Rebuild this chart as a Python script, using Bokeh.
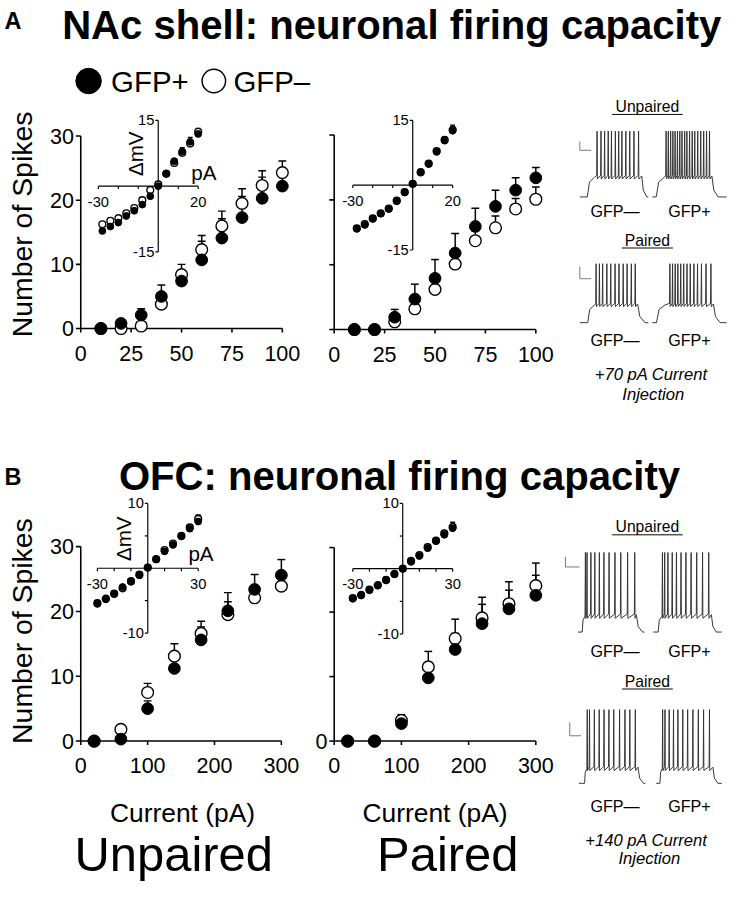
import math
from bokeh.plotting import figure
from bokeh.models import Range1d
from bokeh.core.properties import value
from bokeh.embed import file_html
from bokeh.resources import INLINE

# ------------------------------------------------------------------ DATA
# Panel A : NAc shell, current steps (pA) vs number of spikes
A_CURRENT = [10, 20, 30, 40, 50, 60, 70, 80, 90, 100]
A_UNP_GFPP = [0, 0.8, 2.1, 5.0, 7.4, 10.7, 14.1, 17.3, 20.3, 22.2]
A_UNP_GFPP_SE = [0, 0.3, 1.0, 1.8, 1.5, 2.9, 3.0, 3.3, 3.3, 2.7]
A_UNP_GFPM = [0, 0, 0.4, 3.8, 8.4, 12.3, 16.0, 19.5, 22.3, 24.3]
A_UNP_GFPM_SE = [0, 0, 0.3, 0.8, 1.6, 2.2, 2.3, 2.3, 2.3, 1.8]
A_PAI_GFPP = [0, 0, 1.9, 4.7, 7.9, 11.8, 15.9, 19.0, 21.5, 23.4]
A_PAI_GFPP_SE = [0, 0, 1.2, 2.3, 2.9, 3.0, 2.8, 2.5, 1.9, 1.6]
A_PAI_GFPM = [0, 0, 1.2, 3.2, 6.2, 10.1, 13.7, 15.7, 18.6, 20.1]
A_PAI_GFPM_SE = [0, 0, 0.5, 1.0, 1.2, 1.5, 1.5, 1.8, 1.6, 1.9]
A_X_TICKS = [0, 25, 50, 75, 100]

# Panel A insets : I-V (pA vs delta mV)
A_IV_CURRENT = [-28, -24, -20, -16, -12, -8, -4, 0, 4, 8, 12, 16, 20]
A_IV_UNP_GFPP = [-10.2, -9.2, -8.3, -6.8, -5.6, -4.2, -2.3, 0.0, 2.9, 5.7, 7.9, 10.1, 11.9]
A_IV_UNP_GFPP_SE = [0.3, 0.3, 0.3, 0.3, 0.3, 0.3, 0.3, 0.3, 0.3, 0.4, 0.9, 1.0, 1.0]
A_IV_UNP_GFPM = [-8.7, -7.9, -7.3, -6.2, -5.0, -3.2, -0.9, 0.4, 2.8, 5.3, 7.6, 9.7, 12.4]
A_IV_UNP_GFPM_SE = [0.3, 0.3, 0.3, 0.3, 0.3, 0.3, 0.3, 0.3, 0.3, 0.3, 0.5, 0.6, 0.8]
A_IV_PAI_GFPP = [-10.1, -9.2, -7.8, -6.6, -5.5, -3.7, -1.7, 0.3, 2.9, 4.9, 7.7, 10.3, 12.6]
A_IV_PAI_GFPP_SE = [0.3, 0.3, 0.3, 0.3, 0.3, 0.3, 0.3, 0.3, 0.3, 0.3, 0.7, 0.8, 1.3]
A_IV_PAI_GFPM = [-10.0, -9.0, -7.7, -6.5, -5.4, -3.6, -1.6, 0.3, 3.0, 5.0, 7.9, 10.5, 12.8]
A_IV_PAI_GFPM_SE = [0.3, 0.3, 0.3, 0.3, 0.3, 0.3, 0.3, 0.3, 0.3, 0.3, 0.5, 0.6, 0.8]
A_IV_X_TICKS = [-30, -20, -10, 10, 20]
A_IV_Y_TICKS = [-15, 15]

# Panel B : OFC
B_CURRENT = [20, 60, 100, 140, 180, 220, 260, 300]
B_UNP_GFPP = [0, 0.3, 5.0, 11.2, 15.6, 20.1, 23.4, 25.6]
B_UNP_GFPP_SE = [0, 0.2, 1.2, 1.5, 2.0, 2.8, 2.3, 2.4]
B_UNP_GFPM = [0, 1.8, 7.5, 13.1, 16.6, 19.5, 22.1, 23.9]
B_UNP_GFPM_SE = [0, 0.3, 1.4, 1.9, 1.9, 2.0, 1.5, 1.5]
B_PAI_GFPP = [0, 0, 2.7, 9.8, 14.2, 18.2, 20.5, 22.6]
B_PAI_GFPP_SE = [0, 0, 0.7, 1.5, 2.5, 3.0, 2.9, 3.1]
B_PAI_GFPM = [0, 0, 3.2, 11.5, 15.9, 19.1, 21.3, 24.1]
B_PAI_GFPM_SE = [0, 0, 0.9, 2.4, 3.0, 3.2, 3.4, 3.5]
B_X_TICKS = [0, 100, 200, 300]

B_IV_CURRENT = [-30, -25, -20, -15, -10, -5, 0, 5, 10, 15, 20, 25, 30]
B_IV_UNP_GFPP = [-5.5, -4.8, -4.0, -2.9, -2.1, -1.1, 0.1, 1.35, 2.6, 3.6, 4.9, 6.1, 7.2]
B_IV_UNP_GFPP_SE = [0.2, 0.2, 0.2, 0.2, 0.2, 0.2, 0.2, 0.2, 0.2, 0.2, 0.3, 0.4, 1.0]
B_IV_UNP_GFPM = [-5.4, -4.7, -3.9, -3.1, -2.0, -1.0, 0.1, 1.4, 2.8, 3.8, 5.0, 6.3, 7.6]
B_IV_UNP_GFPM_SE = [0.2, 0.2, 0.2, 0.2, 0.2, 0.2, 0.2, 0.2, 0.2, 0.2, 0.3, 0.4, 0.6]
B_IV_PAI_GFPP = [-4.6, -4.1, -3.3, -2.6, -1.8, -0.85, 0.0, 1.05, 1.95, 3.15, 4.2, 5.2, 6.2]
B_IV_PAI_GFPP_SE = [0.2, 0.2, 0.2, 0.2, 0.2, 0.2, 0.2, 0.2, 0.2, 0.2, 0.3, 0.4, 0.9]
B_IV_PAI_GFPM = [-4.5, -4.0, -3.2, -2.5, -1.7, -0.8, 0.0, 1.2, 2.1, 3.3, 4.3, 5.4, 6.4]
B_IV_PAI_GFPM_SE = [0.2, 0.2, 0.2, 0.2, 0.2, 0.2, 0.2, 0.2, 0.2, 0.2, 0.3, 0.4, 0.7]
B_IV_X_TICKS = [-30, -20, -10, 10, 20, 30]
B_IV_Y_TICKS = [-10, -5, 5, 10]

Y_TICKS = [0, 10, 20, 30]

# Example traces: (onset, plateau reached, spike times, offset, back to rest) in ms
TR_A_UNP_M = dict(on=76, plat=150, spikes=[176, 216, 253, 290, 323, 363, 397, 430, 470, 510, 553, 600], off=633, back=683)
TR_A_UNP_P = dict(on=37, plat=114, spikes=[130, 151, 173, 194, 215, 237, 259, 280, 305, 326, 351, 376, 400, 428, 456, 484, 511, 539], off=561, back=620)
TR_A_PAI_M = dict(on=80, plat=150, spikes=[166, 200, 233, 276, 316, 360, 400, 443, 483, 526, 566], off=590, back=666)
TR_A_PAI_P = dict(on=40, plat=120, spikes=[166, 191, 216, 241, 268, 296, 327, 358, 392, 426, 463, 506, 552], off=576, back=638)
TR_B_UNP_M = dict(on=45, plat=75, spikes=[79, 96, 137, 178, 226, 274, 328, 390, 451, 523, 598], off=615, back=680)
TR_B_UNP_P = dict(on=50, plat=90, spikes=[94, 117, 150, 194, 237, 284, 334, 387, 444, 504, 567], off=594, back=644)
TR_B_PAI_M = dict(on=60, plat=85, spikes=[88, 112, 163, 214, 265, 316, 367, 428, 485, 536, 594], off=622, back=679)
TR_B_PAI_P = dict(on=40, plat=65, spikes=[69, 94, 139, 185, 232, 284, 336, 392, 450, 506, 569], off=606, back=658)
TRACE_REST_MV = -80
TRACE_PEAK_MV = 30
TRACE_TROUGH_A_MV = -47
TRACE_TROUGH_B_MV = -58
# scale bars: (t0 ms, v0 mV, length ms, height mV)
SCALE_A_UNP = (0, -2, 115, 15)
SCALE_A_PAI = (0, 2, 115, 23)
SCALE_B_UNP = (-131, 10, 148, 14)
SCALE_B_PAI = (-96, -9, 119, 20)

# ------------------------------------------------------------------ CANVAS
W, H = 733, 883
REF_W, REF_H = 749, 899
S = W / REF_W
FONT = "Liberation Sans"

p = figure(width=W, height=H, x_range=Range1d(0, REF_W), y_range=Range1d(REF_H, 0),
           x_axis_location=None, y_axis_location=None, min_border=0,
           toolbar_location=None, output_backend="svg", outline_line_color=None,
           background_fill_color="white", border_fill_color="white")
p.grid.visible = False


def px(v):
    return f"{v * S:.1f}px"


def txt(t, x, y, s, size, align="center", baseline="middle", style="normal",
        font=FONT, angle=0.0, xo=0.0, yo=0.0, color="black"):
    t.text(x=[x], y=[y], text=[s], text_font=value(font), text_font_size=px(size),
           text_align=align, text_baseline=baseline, text_font_style=style,
           angle=angle, x_offset=xo * S, y_offset=yo * S, text_color=color)


def series(sp, xs, fp, fp_se, fm, fm_se, msize, cap, lw):
    for ys, se in ((fp, fp_se), (fm, fm_se)):
        ex = [x for x, e in zip(xs, se) if e > 0]
        ey0 = [y for y, e in zip(ys, se) if e > 0]
        ey1 = [y + e for y, e in zip(ys, se) if e > 0]
        sp.segment(x0=ex, y0=ey0, x1=ex, y1=ey1, line_color="black", line_width=lw * S)
        sp.scatter(x=ex, y=ey1, marker="dash", size=cap * S, line_color="black", line_width=lw * S)
    sp.scatter(x=xs, y=fm, size=msize * S, fill_color="white", line_color="black", line_width=1.4 * S)
    sp.scatter(x=xs, y=fp, size=msize * S, fill_color="black", line_color="black")


def main_panel(xs, fp, fp_se, fm, fm_se, xlim, xticks, box, ylabels):
    left, right, top, bottom = box
    sp = p.subplot(x_source=Range1d(*xlim), y_source=Range1d(0, 30),
                   x_target=Range1d(left, right), y_target=Range1d(bottom, top))
    dx = (xlim[1] - xlim[0]) / (right - left)
    dy = 30.0 / (bottom - top)
    lw = 1.6 * S
    sp.segment(x0=[xlim[0], xlim[0]], y0=[0, 0], x1=[xlim[1], xlim[0]], y1=[0, 30],
               line_color="black", line_width=lw)
    sp.segment(x0=[xlim[0]] * len(Y_TICKS), y0=Y_TICKS, x1=[xlim[0] - 5 * dx] * len(Y_TICKS), y1=Y_TICKS,
               line_color="black", line_width=lw)
    sp.segment(x0=xticks, y0=[0] * len(xticks), x1=xticks, y1=[-4 * dy] * len(xticks),
               line_color="black", line_width=lw)
    sp.text(x=xticks, y=[0] * len(xticks), text=[str(t) for t in xticks], text_font=value(FONT),
            text_font_size=px(22), text_align="center", text_baseline="middle", y_offset=25 * S)
    if ylabels:
        yv = [v for v in Y_TICKS if v in ylabels]
        sp.text(x=[xlim[0]] * len(yv), y=yv, text=[str(v) for v in yv], text_font=value(FONT),
                text_font_size=px(22), text_align="right", text_baseline="middle", x_offset=-7 * S)
    series(sp, xs, fp, fp_se, fm, fm_se, 12, 8, 1.5)


def inset(xs, fp, fp_se, fm, fm_se, xlim, ylim, box, xticks, yticks):
    left, right, top, bottom = box
    sp = p.subplot(x_source=Range1d(*xlim), y_source=Range1d(*ylim),
                   x_target=Range1d(left, right), y_target=Range1d(bottom, top))
    dx = (xlim[1] - xlim[0]) / (right - left)
    dy = (ylim[1] - ylim[0]) / (bottom - top)
    lw = 1.2 * S
    sp.segment(x0=[xlim[0], 0], y0=[0, ylim[0]], x1=[xlim[1], 0], y1=[0, ylim[1]],
               line_color="black", line_width=lw)
    sp.segment(x0=xticks, y0=[0] * len(xticks), x1=xticks, y1=[-3 * dy] * len(xticks),
               line_color="black", line_width=lw)
    sp.segment(x0=[0] * len(yticks), y0=yticks, x1=[-3 * dx] * len(yticks), y1=yticks,
               line_color="black", line_width=lw)
    sp.text(x=list(xlim), y=[0, 0], text=[str(v) for v in xlim], text_font=value(FONT),
            text_font_size=px(15), text_align="center", text_baseline="middle", y_offset=16 * S)
    sp.text(x=[0, 0], y=list(ylim), text=[str(v) for v in ylim], text_font=value(FONT),
            text_font_size=px(15), text_align="right", text_baseline="middle", x_offset=-4 * S)
    series(sp, xs, fp, fp_se, fm, fm_se, 7, 5, 1.2)


def build_trace(d, trough):
    ts = [0, d["on"], d["on"] + 0.3 * (d["plat"] - d["on"]), d["plat"]]
    vs = [TRACE_REST_MV, TRACE_REST_MV, TRACE_REST_MV + 0.75 * (trough - TRACE_REST_MV), trough]
    for s in d["spikes"]:
        ts += [s - 4, s, s + 3]
        vs += [trough + 3, TRACE_PEAK_MV, trough - 3]
    ts += [d["off"], d["off"] + 0.3 * (d["back"] - d["off"]), d["back"], 700]
    vs += [trough + 2, TRACE_REST_MV + 0.35 * (trough - TRACE_REST_MV), TRACE_REST_MV, TRACE_REST_MV]
    return ts, vs


def trace(d, trough, box, scale=None):
    left, right, base, peak = box
    sp = p.subplot(x_source=Range1d(0, 700), y_source=Range1d(TRACE_REST_MV, TRACE_PEAK_MV),
                   x_target=Range1d(left, right), y_target=Range1d(base, peak))
    ts, vs = build_trace(d, trough)
    sp.line(x=ts, y=vs, line_color="#333333", line_width=1.0 * S)
    if scale is not None:
        t0, v0, dt, dv = scale
        sp.line(x=[t0, t0, t0 + dt], y=[v0 + dv, v0, v0], line_color="#777777", line_width=1.0 * S)


# ------------------------------------------------------------------ PANEL A
txt(p, 4, 21, "A", 24, align="left", style="bold")
txt(p, 63, 25, "NAc shell: neuronal firing capacity", 41, align="left", style="bold")

# legend
p.scatter(x=[90], y=[82], size=26 * S, fill_color="black", line_color="black")
txt(p, 113, 82, "GFP+", 30, align="left")
p.scatter(x=[218], y=[82], size=24 * S, fill_color="white", line_color="black", line_width=1.5 * S)
txt(p, 238, 82, "GFP\u2013", 30, align="left")

txt(p, 22, 228, "Number of Spikes", 29, angle=math.pi / 2)

main_panel(A_CURRENT, A_UNP_GFPP, A_UNP_GFPP_SE, A_UNP_GFPM, A_UNP_GFPM_SE,
           (0, 100), A_X_TICKS, (82, 288, 138, 334), Y_TICKS)
main_panel(A_CURRENT, A_PAI_GFPP, A_PAI_GFPP_SE, A_PAI_GFPM, A_PAI_GFPM_SE,
           (0, 100), A_X_TICKS, (341, 547, 137, 335), [])
inset(A_IV_CURRENT, A_IV_UNP_GFPP, A_IV_UNP_GFPP_SE, A_IV_UNP_GFPM, A_IV_UNP_GFPM_SE,
      (-30, 20), (-15, 15), (100, 202, 122, 256), A_IV_X_TICKS, A_IV_Y_TICKS)
inset(A_IV_CURRENT, A_IV_PAI_GFPP, A_IV_PAI_GFPP_SE, A_IV_PAI_GFPM, A_IV_PAI_GFPM_SE,
      (-30, 20), (-15, 15), (360, 462, 122, 254), A_IV_X_TICKS, A_IV_Y_TICKS)
txt(p, 138, 156, "\u0394mV", 21, angle=math.pi / 2)
txt(p, 195, 175, "pA", 21, align="left")

# traces A
txt(p, 661, 108, "Unpaired", 16)
p.segment(x0=[625], y0=[116], x1=[697], y1=[116], line_color="black", line_width=1 * S)
trace(TR_A_UNP_M, TRACE_TROUGH_A_MV, (592, 662, 200, 133), SCALE_A_UNP)
trace(TR_A_UNP_P, TRACE_TROUGH_A_MV, (666, 742, 200, 133))
txt(p, 628, 214, "GFP\u2014", 16.5)
txt(p, 704, 214, "GFP+", 16.5)
txt(p, 661, 244, "Paired", 16)
p.segment(x0=[635], y0=[252], x1=[687], y1=[252], line_color="black", line_width=1 * S)
trace(TR_A_PAI_M, TRACE_TROUGH_A_MV, (592, 662, 328, 268), SCALE_A_PAI)
trace(TR_A_PAI_P, TRACE_TROUGH_A_MV, (666, 742, 328, 268))
txt(p, 628, 346, "GFP\u2014", 16.5)
txt(p, 704, 346, "GFP+", 16.5)
txt(p, 665, 381, "+70 pA Current", 17, style="italic")
txt(p, 667, 401, "Injection", 17, style="italic")

# ------------------------------------------------------------------ PANEL B
txt(p, 4, 485, "B", 24, align="left", style="bold")
txt(p, 121, 484, "OFC: neuronal firing capacity", 41, align="left", style="bold")

txt(p, 22, 642, "Number of Spikes", 29, angle=math.pi / 2)

main_panel(B_CURRENT, B_UNP_GFPP, B_UNP_GFPP_SE, B_UNP_GFPM, B_UNP_GFPM_SE,
           (0, 300), B_X_TICKS, (82, 287, 556, 754), Y_TICKS)
main_panel(B_CURRENT, B_PAI_GFPP, B_PAI_GFPP_SE, B_PAI_GFPM, B_PAI_GFPM_SE,
           (0, 300), B_X_TICKS, (341, 547, 557, 754), [0])
inset(B_IV_CURRENT, B_IV_UNP_GFPP, B_IV_UNP_GFPP_SE, B_IV_UNP_GFPM, B_IV_UNP_GFPM_SE,
      (-30, 30), (-10, 10), (99, 202, 512, 644), B_IV_X_TICKS, B_IV_Y_TICKS)
inset(B_IV_CURRENT, B_IV_PAI_GFPP, B_IV_PAI_GFPP_SE, B_IV_PAI_GFPM, B_IV_PAI_GFPM_SE,
      (-30, 30), (-10, 10), (360, 462, 512, 645), B_IV_X_TICKS, B_IV_Y_TICKS)
txt(p, 126, 548, "\u0394mV", 21, angle=math.pi / 2)
txt(p, 192, 563, "pA", 21, align="left")

txt(p, 186, 827, "Current (pA)", 27)
txt(p, 444, 827, "Current (pA)", 27)
txt(p, 177, 869, "Unpaired", 50)
txt(p, 457, 869, "Paired", 50)

# traces B
txt(p, 661, 536, "Unpaired", 16)
p.segment(x0=[625], y0=[544], x1=[697], y1=[544], line_color="black", line_width=1 * S)
trace(TR_B_UNP_M, TRACE_TROUGH_B_MV, (590, 658, 643, 562), SCALE_B_UNP)
trace(TR_B_UNP_P, TRACE_TROUGH_B_MV, (667, 737, 643, 562))
txt(p, 628, 662, "GFP\u2014", 16.5)
txt(p, 704, 662, "GFP+", 16.5)
txt(p, 661, 693, "Paired", 16)
p.segment(x0=[635], y0=[701], x1=[687], y1=[701], line_color="black", line_width=1 * S)
trace(TR_B_PAI_M, TRACE_TROUGH_B_MV, (591, 659, 797, 722), SCALE_B_PAI)
trace(TR_B_PAI_P, TRACE_TROUGH_B_MV, (670, 737, 797, 722))
txt(p, 628, 820, "GFP\u2014", 16.5)
txt(p, 704, 820, "GFP+", 16.5)
txt(p, 660, 855, "+140 pA Current", 17, style="italic")
txt(p, 663, 874, "Injection", 17, style="italic")

open("out.html", "w").write(file_html(p, INLINE))
